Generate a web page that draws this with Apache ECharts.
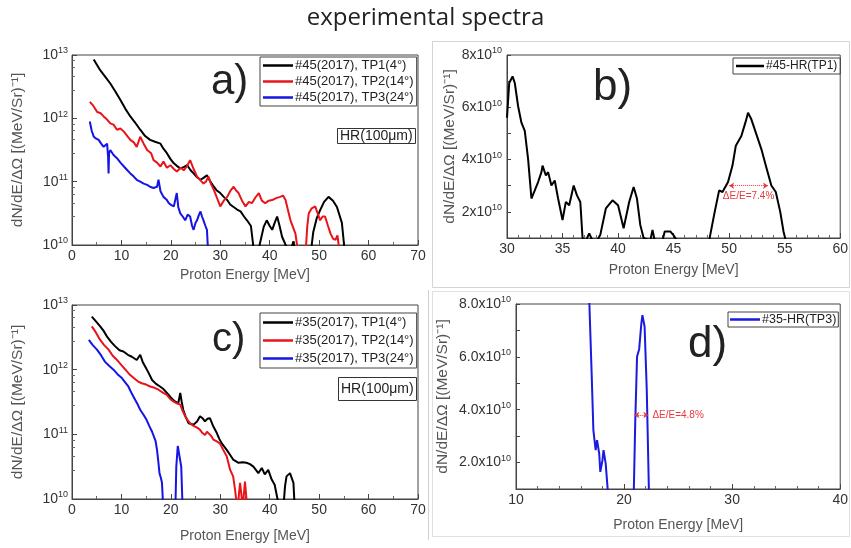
<!DOCTYPE html>
<html>
<head>
<meta charset="utf-8">
<script src="https://cdn.jsdelivr.net/npm/echarts@6/dist/echarts.min.js"></script>
<style>
  html, body { margin: 0; padding: 0; background: #fff; }
  #main { width: 851px; height: 548px; }
</style>
</head>
<body>
<div id="main"></div>
<script>
// [energy MeV, log10(dN/dE/dOmega)] read off panels a) and c)
var aTP1 = [[4.4,12.93],[5.7,12.76],[6.7,12.66],[7.75,12.55],[8.8,12.42],[9.8,12.29],[10.8,12.15],[11.8,12.03],[12.8,11.93],[13.8,11.82],[14.8,11.72],[15.8,11.66],[16.8,11.63],[17.9,11.6],[18.5,11.52],[19.2,11.45],[19.9,11.36],[20.6,11.29],[21.2,11.25],[21.9,11.21],[22.6,11.23],[23.3,11.26],[24.0,11.18],[24.6,11.13],[25.3,11.07],[26,11.03],[26.6,11.06],[27.3,11.1],[28.0,11.0],[28.7,10.92],[29.3,10.86],[30,10.82],[30.7,10.76],[31.4,10.71],[32.0,10.64],[32.7,10.6],[33.4,10.56],[34.1,10.53],[34.8,10.45],[35.4,10.39],[36.2,10.3],[36.8,9.9],[37.8,9.95],[38.8,10.29],[39.4,10.39],[40.0,10.3],[40.5,10.24],[41.0,10.35],[41.5,10.45],[42.0,10.3],[42.5,10.13],[43.5,9.95],[44.2,9.9],[44.8,10.06],[45.2,9.8],[48.2,9.8],[48.8,10.2],[49.5,10.42],[50.2,10.55],[51.0,10.68],[51.9,10.76],[52.8,10.7],[53.6,10.6],[54.6,10.35],[55.3,9.8]];
var aTP2 = [[3.6,12.26],[4.3,12.2],[5.1,12.1],[5.8,12.08],[6.4,12.03],[7.1,11.98],[7.75,11.92],[8.4,11.9],[9.1,11.82],[9.8,11.84],[10.5,11.79],[11.2,11.72],[11.8,11.66],[12.5,11.62],[13.1,11.55],[13.8,11.71],[14.5,11.6],[15.2,11.5],[16.0,11.45],[16.5,11.34],[17.2,11.3],[17.9,11.24],[18.5,11.32],[19.2,11.22],[19.9,11.26],[20.6,11.2],[21.2,11.16],[22.0,11.22],[22.6,11.18],[23.3,11.25],[23.9,11.34],[24.6,11.2],[25.3,11.08],[26,11.02],[26.6,10.97],[27.1,11.0],[27.6,11.08],[28.2,10.95],[28.7,10.87],[29.3,10.75],[30,10.61],[30.7,10.7],[31.4,10.76],[32.0,10.85],[32.7,10.92],[33.2,10.86],[33.7,10.82],[34.4,10.7],[35.1,10.61],[35.8,10.68],[36.4,10.66],[37.1,10.75],[37.8,10.82],[38.4,10.7],[39.1,10.66],[39.8,10.7],[40.5,10.71],[41.3,10.74],[42.1,10.76],[42.7,10.78],[43.2,10.71],[43.7,10.55],[44.2,10.39],[45.2,10.18],[45.9,9.8],[47.2,9.8],[47.6,10.3],[47.9,10.5],[48.5,10.58],[49.2,10.61],[49.7,10.5],[50.2,10.39],[50.7,10.45],[51.2,10.45],[51.8,10.3],[52.3,10.18],[52.8,10.1],[53.3,10.08],[53.7,10.15],[54.3,9.8]];
var aTP3 = [[3.6,11.95],[4.0,11.8],[4.4,11.71],[4.9,11.68],[5.4,11.66],[5.9,11.6],[6.4,11.55],[7.1,11.6],[7.3,11.4],[7.4,11.13],[7.5,11.45],[7.75,11.5],[8.4,11.42],[9.1,11.37],[9.8,11.3],[10.5,11.24],[11.2,11.18],[11.8,11.13],[12.5,11.08],[13.1,11.03],[13.8,11.0],[14.5,10.97],[15.2,10.95],[15.8,10.92],[16.5,10.9],[17.2,10.92],[17.5,11.03],[17.9,10.85],[18.5,10.76],[19.1,10.72],[19.6,10.66],[20.1,10.63],[20.6,10.61],[21.2,10.82],[21.5,10.6],[21.9,10.5],[22.4,10.45],[22.9,10.39],[23.4,10.48],[23.9,10.45],[24.3,10.3],[24.6,10.24],[25.0,10.35],[25.3,10.39],[25.7,10.48],[26,10.53],[26.3,10.45],[26.6,10.39],[27.0,10.3],[27.3,10.24],[27.6,9.8]];

var cTP1 = [[4.0,12.82],[4.8,12.75],[5.7,12.67],[6.4,12.6],[7.1,12.51],[7.9,12.43],[8.75,12.36],[9.6,12.3],[10.4,12.28],[11.3,12.23],[12.1,12.2],[13.1,12.15],[13.8,12.23],[14.3,12.12],[14.8,12.05],[15.5,11.95],[16.2,11.84],[17.0,11.78],[17.8,11.74],[18.5,11.7],[19.2,11.64],[19.9,11.58],[20.5,11.53],[21.0,11.5],[21.5,11.48],[21.9,11.64],[22.2,11.5],[22.5,11.38],[23.0,11.27],[23.6,11.17],[24.1,11.16],[24.6,11.15],[25.3,11.2],[25.9,11.28],[26.4,11.25],[26.9,11.2],[27.4,11.24],[27.9,11.25],[28.6,11.12],[29.3,11.02],[29.8,10.93],[30.3,10.86],[31.3,10.76],[32.0,10.68],[32.6,10.61],[33.7,10.56],[34.5,10.57],[35.3,10.56],[36.0,10.54],[36.7,10.5],[37.2,10.45],[37.7,10.4],[38.4,10.48],[39.0,10.38],[39.7,10.45],[40.4,10.3],[41.0,10.22],[41.4,10.19],[42.1,9.8],[42.7,9.8],[43.1,10.2],[43.4,10.35],[44.1,10.4],[44.8,10.25],[45.1,9.8]];
var cTP2 = [[4.0,12.67],[4.8,12.58],[5.7,12.46],[6.5,12.38],[7.4,12.31],[8.2,12.22],[9.1,12.15],[10.0,12.07],[10.8,12.0],[11.6,11.93],[12.5,11.87],[13.3,11.82],[14.1,11.79],[15.0,11.77],[15.8,11.74],[16.7,11.72],[17.5,11.69],[18.3,11.65],[19.2,11.61],[19.8,11.55],[20.5,11.51],[21.2,11.48],[21.9,11.46],[22.4,11.36],[22.9,11.28],[23.4,11.22],[23.9,11.17],[24.4,11.14],[24.9,11.12],[25.4,11.1],[25.9,11.07],[26.4,11.02],[26.9,10.99],[27.3,11.04],[27.6,11.07],[28.1,10.98],[28.6,10.92],[29.3,10.89],[29.9,10.86],[30.6,10.76],[31.3,10.66],[32.0,10.45],[32.6,10.35],[33.0,10.14],[33.5,9.8],[33.8,10.1],[34.0,10.25],[34.3,10.05],[34.5,9.8],[34.8,10.1],[35.0,10.27],[35.5,9.8]];
var cTP3 = [[3.4,12.46],[4.2,12.38],[5.05,12.31],[5.9,12.22],[6.7,12.12],[7.5,12.06],[8.4,12.0],[9.2,11.93],[10.1,11.87],[10.8,11.8],[11.4,11.74],[12.1,11.63],[12.8,11.53],[13.3,11.46],[13.8,11.38],[14.5,11.3],[15.1,11.22],[15.7,11.12],[16.2,11.04],[16.6,11.07],[16.9,10.9],[17.2,10.76],[17.5,10.55],[17.7,10.4],[18.0,10.32],[18.2,10.25],[18.5,9.8],[20.9,9.8],[21.1,10.5],[21.4,10.82],[21.8,10.85],[22.1,10.5],[22.4,9.8]];

// [energy MeV, dN/dE/dOmega in units of 1e10] panels b) and d)
var bTP1 = [[30,5.6],[30.2,6.93],[30.5,7.18],[30.7,6.93],[31,6.04],[31.3,5.41],[31.6,5.1],[31.9,4.02],[32.2,2.51],[32.5,2.82],[32.8,3.14],[33.1,3.52],[33.2,3.77],[33.5,3.39],[33.7,3.52],[34,3.01],[34.3,3.2],[34.6,2.51],[35,1.69],[35.3,2.38],[35.6,2.25],[36,3.01],[36.3,2.63],[36.6,2.38],[36.8,1.0],[37.1,0.9],[37.4,1.18],[37.7,0.9],[38.1,0.9],[38.4,1.12],[38.9,2.13],[39.5,2.44],[40,2.25],[40.5,1.37],[41,2.38],[41.4,2.95],[41.7,2.51],[42,1.5],[42.3,1.0],[42.9,0.9],[43.1,1.31],[43.3,0.9],[44,0.9],[44.2,1.25],[44.7,1.25],[45.0,1.1],[45.3,0.9],[48.2,0.9],[48.7,2.0],[49.1,2.82],[49.4,2.76],[49.9,3.14],[50.3,3.77],[50.6,4.53],[51.1,4.9],[51.5,5.47],[51.7,5.79],[52,5.54],[52.4,5.03],[52.9,4.4],[53.3,3.77],[53.8,3.01],[54.2,2.76],[54.6,2.0],[54.9,1.24],[55.1,0.9]];
var dTP3 = [[16.75,8.5],[17.0,5.37],[17.16,3.23],[17.37,2.47],[17.5,2.85],[17.7,2.34],[17.8,1.65],[18.0,2.09],[18.1,2.47],[18.3,1.96],[18.5,0.9],[20.9,0.9],[21.03,3.48],[21.2,6.0],[21.4,6.3],[21.6,7.27],[21.7,7.58],[21.9,7.14],[22.1,4.74],[22.3,0.9]];

// FWHM markers
var bFwhm = [[50.0,3.0],[53.5,3.0]];
var dFwhm = [[20.95,3.8],[22.25,3.8]];

var logTicks = [10,11,12,13];

var FONT = 'Liberation Sans';
var mychart = echarts.init(document.getElementById('main'));

function toLog(arr) {
    return arr.map(function (p) { return [p[0], Math.pow(10, p[1])]; });
}

var supRich = {
    b: { fontSize: 14, color: '#333', fontFamily: FONT },
    s: { fontSize: 9, color: '#333', fontFamily: FONT, padding: [0, 0, 8, 0] }
};

function xAx(idx, min, max, interval, minorSplit, gap) {
    return {
        gridIndex: idx, type: 'value', min: min, max: max, interval: interval,
        name: 'Proton Energy [MeV]', nameLocation: 'middle', nameGap: gap,
        nameTextStyle: { fontSize: 14, color: '#555', fontFamily: FONT },
        axisLine: { lineStyle: { color: '#444' } },
        axisTick: { inside: true, length: 5, lineStyle: { color: '#444' } },
        minorTick: { show: true, splitNumber: minorSplit, length: 3, lineStyle: { color: '#666' } },
        axisLabel: { color: '#333', fontSize: 14, fontFamily: FONT, margin: 4 },
        splitLine: { show: false }
    };
}

function yLog(idx) {
    return {
        gridIndex: idx, type: 'log', logBase: 10, min: 1e10, max: 1e13,
        name: 'dN/dE/ΔΩ [(MeV/Sr)⁻¹]', nameLocation: 'middle', nameGap: 46,
        nameTextStyle: { fontSize: 15.5, color: '#555', fontFamily: FONT },
        axisLine: { lineStyle: { color: '#444' } },
        axisTick: { inside: true, length: 5, lineStyle: { color: '#444' } },
        minorTick: { show: true, splitNumber: 5, length: 3, lineStyle: { color: '#666' } },
        axisLabel: {
            margin: 4,
            formatter: function (v) {
                var e = Math.round(Math.log10(v));
                return logTicks.indexOf(e) >= 0 ? '{b|10}{s|' + e + '}' : '';
            },
            rich: supRich
        },
        splitLine: { show: false }
    };
}

function yLin(idx, prefix, gap) {
    return {
        gridIndex: idx, type: 'value', min: 1, max: 8, interval: 1,
        name: 'dN/dE/ΔΩ [(MeV/Sr)⁻¹]', nameLocation: 'middle', nameGap: gap,
        nameTextStyle: { fontSize: 15.5, color: '#555', fontFamily: FONT },
        axisLine: { lineStyle: { color: '#444' } },
        axisTick: { inside: true, length: 4, lineStyle: { color: '#444' } },
        axisLabel: {
            margin: 5,
            formatter: function (v) {
                if (v % 2 !== 0) return '';
                return '{b|' + (prefix ? v.toFixed(1) : v) + 'x10}{s|10}';
            },
            rich: supRich
        },
        splitLine: { show: false }
    };
}

function line(name, data, xi, color, extra) {
    var s = {
        name: name, type: 'line', xAxisIndex: xi, yAxisIndex: xi,
        data: data, symbol: 'none', clip: true,
        lineStyle: { color: color, width: 2 }, itemStyle: { color: color }
    };
    if (extra) for (var k in extra) s[k] = extra[k];
    return s;
}

function fwhm(coords, labelPos, dist, text) {
    return {
        silent: true, symbol: ['arrow', 'arrow'], symbolSize: 5,
        lineStyle: { color: '#e8383d', type: 'dotted', width: 1 },
        label: {
            show: true, position: labelPos, distance: dist,
            color: '#e8383d', fontSize: 10, fontFamily: FONT, formatter: text
        },
        data: [[{ coord: coords[0] }, { coord: coords[1] }]]
    };
}

function legend(names, left, top, gap, iconW, fs, pad) {
    return {
        data: names, orient: 'vertical', left: left, top: top,
        icon: 'rect', itemWidth: iconW, itemHeight: 2.5, itemGap: gap,
        borderColor: '#444', borderWidth: 1, padding: pad,
        textStyle: { fontSize: fs, color: '#222', fontFamily: FONT, padding: [0, 0, 0, -3] },
        selectedMode: false
    };
}

function bigLetter(t, left, top, size) {
    return { text: t, left: left, top: top, padding: 0,
        textStyle: { fontSize: size, fontWeight: 'normal', color: '#222', fontFamily: FONT } };
}

option = {
    backgroundColor: '#fff',
    animation: false,
    title: [
        { text: 'experimental spectra', left: 'center', top: 6, padding: 0,
          textStyle: { fontSize: 24, fontWeight: 'normal', color: '#222', fontFamily: 'Open Sans' } },
        bigLetter('a)', 211, 61, 42),
        bigLetter('b)', 593, 66, 44),
        bigLetter('c)', 212, 320, 40),
        bigLetter('d)', 688, 323, 44),
        { text: 'HR(100μm)', left: 337, top: 128, padding: [1, 3], borderColor: '#333', borderWidth: 1,
          textStyle: { fontSize: 14, fontWeight: 'normal', color: '#222', fontFamily: FONT } },
        { text: 'HR(100μm)', left: 338, top: 377, padding: [5, 3], borderColor: '#333', borderWidth: 1,
          textStyle: { fontSize: 14, fontWeight: 'normal', color: '#222', fontFamily: FONT } }
    ],
    legend: [
        legend(['#45(2017), TP1(4°)', '#45(2017), TP2(14°)', '#45(2017), TP3(24°)'], 260, 57, 3, 30, 13, [2, 3]),
        legend(['#45-HR(TP1)'], 733, 58, 1, 28, 12, [2, 3]),
        legend(['#35(2017), TP1(4°)', '#35(2017), TP2(14°)', '#35(2017), TP3(24°)'], 260, 313, 5, 30, 13, [3, 3]),
        legend(['#35-HR(TP3)'], 728, 312, 1, 30, 12.5, [1, 2])
    ],
    grid: [
        { left: 72, top: 55, width: 346, height: 190, show: true, borderColor: '#444', borderWidth: 1 },
        { left: 507, top: 55, width: 336, height: 183, show: true, borderColor: '#444', borderWidth: 1 },
        { left: 72, top: 305, width: 346, height: 194, show: true, borderColor: '#444', borderWidth: 1 },
        { left: 516, top: 304, width: 328, height: 185, show: true, borderColor: '#444', borderWidth: 1 }
    ],
    xAxis: [
        xAx(0, 0, 70, 10, 2, 23),
        xAx(1, 30, 60, 5, 5, 25),
        xAx(2, 0, 70, 10, 2, 30),
        xAx(3, 10, 40, 10, 5, 29)
    ],
    yAxis: [
        yLog(0),
        yLin(1, false, 49),
        yLog(2),
        yLin(3, true, 65)
    ],
    graphic: [
        { type: 'rect', shape: { x: 432.5, y: 41.5, width: 417, height: 246 },
          style: { fill: 'none', stroke: '#d4d4d4', lineWidth: 1 }, silent: true },
        { type: 'rect', shape: { x: 432.5, y: 291.5, width: 417, height: 245 },
          style: { fill: 'none', stroke: '#e0e0e0', lineWidth: 1 }, silent: true },
        { type: 'line', shape: { x1: 428.5, y1: 290, x2: 428.5, y2: 540 },
          style: { stroke: '#d0d0d0', lineWidth: 1 }, silent: true }
    ],
    series: [
        line('#45(2017), TP1(4°)', toLog(aTP1), 0, '#000'),
        line('#45(2017), TP2(14°)', toLog(aTP2), 0, '#e8141a'),
        line('#45(2017), TP3(24°)', toLog(aTP3), 0, '#1414e6'),
        line('#45-HR(TP1)', bTP1, 1, '#000', { markLine: fwhm(bFwhm, 'insideMiddleBottom', 6, 'ΔE/E=7.4%') }),
        line('#35(2017), TP1(4°)', toLog(cTP1), 2, '#000'),
        line('#35(2017), TP2(14°)', toLog(cTP2), 2, '#e8141a'),
        line('#35(2017), TP3(24°)', toLog(cTP3), 2, '#1414e6'),
        line('#35-HR(TP3)', dTP3, 3, '#1a1ae0', { markLine: fwhm(dFwhm, 'end', 4, 'ΔE/E=4.8%') })
    ]
};
mychart.setOption(option);
</script>
</body>
</html>
